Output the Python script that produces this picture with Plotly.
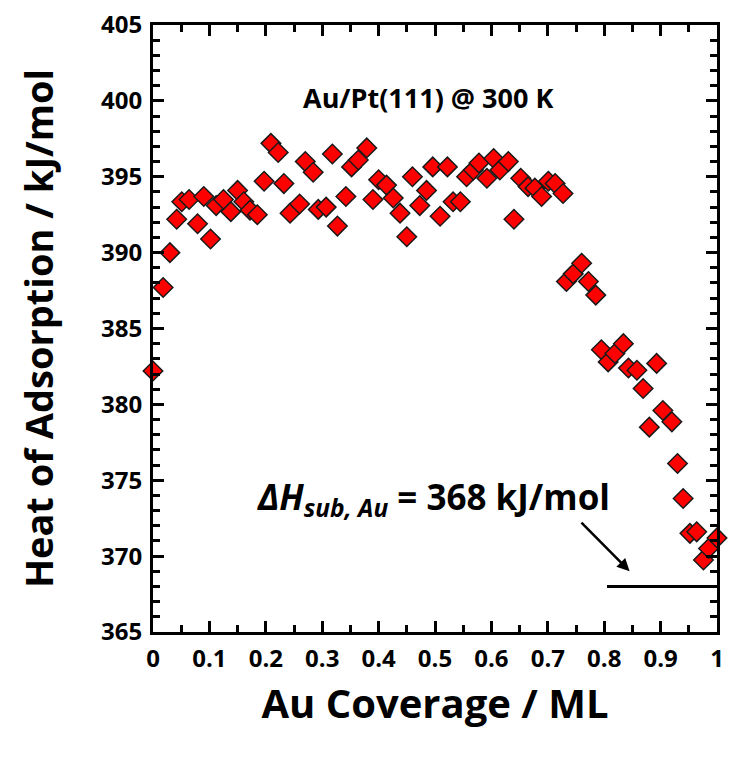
import plotly.graph_objects as go

coverage = [0.000, 0.018, 0.030, 0.042, 0.051, 0.064, 0.079, 0.090, 0.102, 0.112,
            0.125, 0.138, 0.150, 0.161, 0.172, 0.185, 0.197, 0.209, 0.222, 0.232,
            0.243, 0.260, 0.270, 0.284, 0.293, 0.307, 0.318, 0.327, 0.342, 0.352,
            0.364, 0.379, 0.390, 0.400, 0.414, 0.426, 0.438, 0.450, 0.460, 0.473,
            0.485, 0.496, 0.509, 0.522, 0.532, 0.545, 0.556, 0.568, 0.578, 0.592,
            0.604, 0.615, 0.630, 0.640, 0.652, 0.665, 0.677, 0.689, 0.701, 0.713,
            0.727, 0.733, 0.745, 0.760, 0.772, 0.785, 0.795, 0.807, 0.819, 0.834,
            0.843, 0.858, 0.869, 0.880, 0.893, 0.904, 0.920, 0.930, 0.940, 0.952,
            0.964, 0.976, 0.985, 1.000]
heat = [382.2, 387.7, 390.0, 392.2, 393.35, 393.5, 391.9, 393.7, 390.9, 393.1,
        393.5, 392.7, 394.1, 393.35, 392.8, 392.5, 394.7, 397.2, 396.6, 394.55,
        392.6, 393.2, 396.0, 395.3, 392.85, 393.0, 396.5, 391.75, 393.7, 395.65,
        396.1, 396.9, 393.5, 394.8, 394.45, 393.6, 392.6, 391.05, 395.0, 393.1,
        394.1, 395.65, 392.4, 395.65, 393.35, 393.35, 395.0, 395.45, 395.9, 394.9,
        396.2, 395.45, 396.0, 392.2, 394.9, 394.35, 394.25, 393.7, 394.7, 394.55,
        393.9, 388.1, 388.6, 389.3, 388.1, 387.2, 383.6, 382.8, 383.35, 384.0,
        382.4, 382.25, 381.05, 378.5, 382.7, 379.6, 378.85, 376.1, 373.8, 371.5,
        371.6, 369.75, 370.5, 371.2]

x_ticks = [0, 0.1, 0.2, 0.3, 0.4, 0.5, 0.6, 0.7, 0.8, 0.9, 1]
x_tick_labels = ["0", "0.1", "0.2", "0.3", "0.4", "0.5", "0.6", "0.7", "0.8", "0.9", "1"]
y_ticks = [365, 370, 375, 380, 385, 390, 395, 400, 405]

dh_sub = 368
dh_line_x = [0.805, 1.0]
title_text = "Au/Pt(111) @ 300 K"

FONT = "Open Sans"

fig = go.Figure()
fig.add_trace(go.Scatter(
    x=coverage, y=heat, mode="markers", cliponaxis=False,
    marker=dict(symbol="diamond", size=15, color="#FF0000",
                line=dict(color="#1a1a1a", width=1.5)),
    showlegend=False,
))
fig.add_trace(go.Scatter(
    x=dh_line_x, y=[dh_sub, dh_sub], mode="lines",
    line=dict(color="black", width=3), showlegend=False, hoverinfo="skip",
))

axis_common = dict(
    showgrid=False, zeroline=False, showline=True, linecolor="black", linewidth=3,
    mirror="ticks", ticks="inside", tickcolor="black", tickwidth=2.5, ticklen=11,
    tickfont=dict(family=FONT, size=24, color="black", weight="bold"),
    automargin=False,
)

fig.update_xaxes(
    **axis_common, range=[0, 1], tickvals=x_ticks, ticktext=x_tick_labels,
    minor=dict(ticks="inside", dtick=0.05, ticklen=7, tickwidth=2.5, tickcolor="black"),
    title=dict(text="<b>Au Coverage / ML</b>", font=dict(family=FONT, size=40, color="black"), standoff=18),
    ticklabelstandoff=3,
)
fig.update_yaxes(
    **axis_common, range=[365, 405], tickvals=y_ticks,
    minor=dict(ticks="inside", dtick=1, ticklen=7, tickwidth=2.5, tickcolor="black"),
    title=dict(text="<b>Heat of Adsorption / kJ/mol</b>", font=dict(family=FONT, size=38, color="black"), standoff=36),
    ticklabelstandoff=3,
)

fig.add_annotation(
    x=0.488, y=400.2, xref="x", yref="y", text="<b>" + title_text + "</b>",
    showarrow=False, xanchor="center", font=dict(family=FONT, size=27, color="black"),
)
fig.add_annotation(
    x=0.498, y=373.8, xref="x", yref="y",
    text="<b><i>ΔH<sub>sub, Au</sub></i> = 368 kJ/mol</b>",
    showarrow=False, xanchor="center", font=dict(family=FONT, size=35, color="black"),
)
fig.add_annotation(
    x=0.845, y=369.0, ax=0.757, ay=372.3, xref="x", yref="y", axref="x", ayref="y",
    text="", showarrow=True, arrowhead=2, arrowsize=1, arrowwidth=2.5, arrowcolor="black",
)

fig.update_layout(
    width=732, height=761,
    margin=dict(l=153, r=15, t=25, b=129),
    plot_bgcolor="white", paper_bgcolor="white",
)

fig.write_html("out.html", config={"displayModeBar": False},
               post_script="document.body.style.margin='0';")
